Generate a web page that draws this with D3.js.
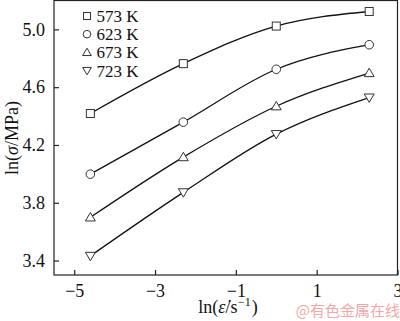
<!DOCTYPE html>
<html><head><meta charset="utf-8">
<script src="https://cdn.jsdelivr.net/npm/d3@7"></script>
<style>body{margin:0;background:#fff}svg{display:block}text{font-family:"Liberation Serif","Times New Roman",serif}</style>
</head><body><svg id="c" width="400" height="321"></svg>
<script>
const strainRates = [-4.6, -2.3, 0, 2.3];
const temps = ["573 K", "623 K", "673 K", "723 K"];
const s573 = [4.418, 4.763, 5.023, 5.124];
const s623 = [3.998, 4.358, 4.724, 4.894];
const s673 = [3.699, 4.116, 4.468, 4.698];
const s723 = [3.432, 3.872, 4.275, 4.528];
const series = [s573, s623, s673, s723];
const symbols = ["square", "circle", "up", "down"];
const xTicks = [-5, -3, -1, 1, 3];
const yTicks = [3.4, 3.8, 4.2, 4.6, 5.0];

const svg = d3.select("#c");
const x = d3.scaleLinear().domain([-5.5, 3]).range([54, 397.5]);
const y = d3.scaleLinear().domain([3.3, 5.2]).range([275, 0.5]);

svg.append("rect").attr("x", 54).attr("y", 0.5).attr("width", 343.5).attr("height", 274.5)
  .attr("fill", "none").attr("stroke", "#222").attr("stroke-width", 1.2);

const fs = "18px";
const xAxis = svg.append("g").attr("transform", "translate(0,275)")
  .call(d3.axisBottom(x).tickValues(xTicks).tickSize(-5).tickPadding(9)
    .tickFormat(d => d < 0 ? "\u2212" + Math.abs(d) : String(d)));
const yAxis = svg.append("g").attr("transform", "translate(54,0)")
  .call(d3.axisLeft(y).tickValues(yTicks).tickSize(-5).tickPadding(9).tickFormat(d3.format(".1f")));
[xAxis, yAxis].forEach(g => {
  g.select(".domain").remove();
  g.selectAll("line").attr("stroke", "#222").attr("stroke-width", 1.2);
  g.selectAll("text").attr("fill", "#111").style("font-size", fs).style("font-family", "Liberation Serif, serif");
});

function sym(g, type, cx, cy, s) {
  if (type === "square") g.append("rect").attr("x", cx - s / 2).attr("y", cy - s / 2).attr("width", s).attr("height", s);
  else if (type === "circle") g.append("circle").attr("cx", cx).attr("cy", cy).attr("r", s / 2 + 0.3);
  else if (type === "up") g.append("path").attr("d", `M${cx},${cy - s * 0.6}L${cx + s * 0.62},${cy + s * 0.45}L${cx - s * 0.62},${cy + s * 0.45}Z`);
  else g.append("path").attr("d", `M${cx},${cy + s * 0.6}L${cx + s * 0.62},${cy - s * 0.45}L${cx - s * 0.62},${cy - s * 0.45}Z`);
}

const line = d3.line().x((d, i) => x(strainRates[i])).y(d => y(d)).curve(d3.curveMonotoneX);
series.forEach((s, k) => {
  svg.append("path").attr("d", line(s)).attr("fill", "none").attr("stroke", "#111").attr("stroke-width", 1.3);
  const g = svg.append("g").attr("fill", "#fff").attr("stroke", "#333").attr("stroke-width", 1);
  s.forEach((v, i) => sym(g, symbols[k], x(strainRates[i]), y(v), 8));
});

const lg = svg.append("g");
temps.forEach((t, k) => {
  const cy = 16 + k * 18.2;
  const g = lg.append("g").attr("fill", "#fff").attr("stroke", "#333").attr("stroke-width", 1);
  sym(g, symbols[k], 87, cy, 7);
  lg.append("text").attr("x", 96.5).attr("y", cy + 6).text(t).style("font-size", "17px").attr("fill", "#111");
});

const xt = svg.append("text").attr("x", 228).attr("y", 313).attr("text-anchor", "middle").style("font-size", fs).attr("fill", "#111");
xt.append("tspan").text("ln(");
xt.append("tspan").text("\u03B5\u0307").style("font-style", "italic");
xt.append("tspan").text("/s");
xt.append("tspan").text("\u22121").attr("dy", -7).attr("dx", 0.5).style("font-size", "12px");
xt.append("tspan").text(")").attr("dy", 7).attr("dx", 1);

const yt = svg.append("text").attr("transform", "translate(18,138) rotate(-90)").attr("text-anchor", "middle").style("font-size", fs).attr("fill", "#111");
yt.append("tspan").text("ln(");
yt.append("tspan").text("\u03C3").style("font-style", "italic");
yt.append("tspan").text("/MPa)");

svg.append("text").attr("x", 400).attr("y", 316).attr("text-anchor", "end")
  .style("font-family", "Noto Sans CJK SC, sans-serif").style("font-size", "15px").attr("fill", "#f2a8a8")
  .text("@有色金属在线");
</script></body></html>
